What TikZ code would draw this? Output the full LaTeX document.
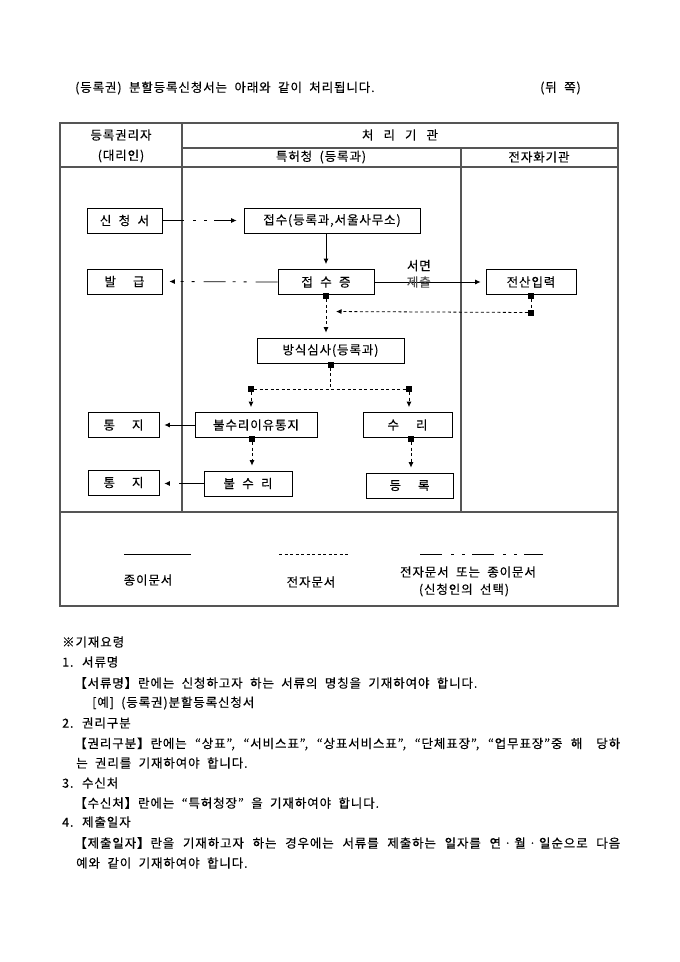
\documentclass[tikz,border=0pt]{standalone}
\usepackage{fontspec}
\setmainfont{Noto Sans CJK KR}[WordSpace=2.0, LetterSpace=7, FakeBold=0.2]
\usetikzlibrary{arrows.meta,positioning,calc}
\definecolor{rulegray}{RGB}{85,85,85}
\definecolor{faded}{RGB}{80,80,80}

\begin{document}
\begin{tikzpicture}[x=1pt, y=-1pt,
        box/.style={rectangle, draw=black, line width=0.8pt,
                    minimum height=25pt, inner sep=0pt,
                    font=\fontsize{12.5}{15}\selectfont},
        paper/.style={-{Latex[length=5.5pt,width=5pt]}, line width=0.8pt, shorten >=5pt},
        dots/.style={line width=0.8pt, dash pattern=on 3pt off 2.5pt},
        elec/.style={dots, -{Latex[length=5.5pt,width=5pt]}, shorten >=5pt},
        mixpat/.style={dash pattern=on 22pt off 9pt on 3pt off 8pt on 3pt off 7pt},
        mixed/.style={-{Latex[length=5.5pt,width=5pt]}, line width=0.8pt, shorten >=7pt, mixpat},
        sq/.style={rectangle, fill=black, minimum size=6pt, inner sep=0pt},
        grid/.style={draw=rulegray, line width=1.2pt},
        hd/.style={font=\fontsize{12.5}{15}\selectfont},
        txt/.style={anchor=west, inner sep=0pt, font=\fontsize{12.5}{15}\selectfont}]

        \useasboundingbox (0,0) rectangle (680,962);

        % heading line
        \node[txt] (title) at (75,88) {(등록권) 분할등록신청서는 아래와 같이 처리됩니다.};
        \node[txt] (side) at (540,88) {(뒤 쪽)};

        % table frame
        \draw[grid] (60,123) rectangle (618,606);
        \draw[grid] (182,148) -- (618,148);
        \draw[grid] (60,167) -- (618,167);
        \draw[grid] (60,512) -- (618,512);
        \draw[grid] (182,123) -- (182,512);
        \draw[grid] (461,148) -- (461,512);

        % column heads
        \node[hd] (owner) at (121,135) {등록권리자};
        \node[hd] (agent) at (121,156) {(대리인)};
        \node[hd] (org) at (400,135) {처\hspace{10pt}리\hspace{10pt}기\hspace{10pt}관};
        \node[hd] (kipo) at (321,157) {특허청 (등록과)};
        \node[hd] (scan) at (539,157) {전자화기관};

        % process boxes
        \node[box, minimum width=75pt] (apply) at (124.5,220.5) {신 청 서};
        \node[box, minimum width=176pt] (recv) at (332,220.5) {접수(등록과,서울사무소)};
        \node[box, minimum width=75pt] (issue) at (124.5,281.5) {발\hspace{17pt}급};
        \node[box, minimum width=96pt] (slip) at (326,282) {접 수 증};
        \node[box, minimum width=90pt] (input) at (531,282) {전산입력};
        \node[box, minimum width=147pt] (exam) at (330.5,350.5) {방식심사(등록과)};
        \node[box, minimum width=71pt] (notice) at (123.5,425) {통\hspace{17pt}지};
        \node[box, minimum width=122pt] (reason) at (256,425) {불수리이유통지};
        \node[box, minimum width=89pt] (accept) at (407.5,425) {수\hspace{17pt}리};
        \node[box, minimum width=71pt] (notice2) at (123.5,482.5) {통\hspace{17pt}지};
        \node[box, minimum width=88pt] (refuse) at (248,483.5) {불 수 리};
        \node[box, minimum width=87pt] (enrol) at (409.5,485.5) {등\hspace{17pt}록};

        % branch markers
        \node[sq, below=-2pt of slip] (slipsq) {};
        \node[sq, below=-2pt of input] (inputsq) {};
        \node[sq, below=10pt of inputsq] (turnsq) {};
        \coordinate (back) at (331,311.5);
        \node[sq, below=-2pt of exam] (examsq) {};
        \node[sq] (leftsq) at (251,389) {};
        \node[sq] (rightsq) at (409,389) {};
        \node[sq] (reasonsq) at (252,439) {};
        \node[sq] (acceptsq) at (411,439) {};

        % connectors
        \draw[mixed] (apply.east) -- (recv.west);
        \draw[paper] (slip.north |- recv.south) -- (slip.north);
        \draw[mixed] (slip.west) -- (issue.east);
        \draw[paper] (slip.east) --
            node[pos=0.4, above=7pt, hd] {서면}
            node[pos=0.4, hd, text=faded] {제출}
            (input.west);
        \draw[dots] (inputsq) -- (turnsq);
        \draw[elec] (turnsq) -- (back);
        \draw[elec] (slipsq) -- (slipsq |- exam.north);
        \draw[dots] (examsq) -- (examsq |- leftsq);
        \draw[dots] (leftsq) -- (rightsq);
        \draw[elec] (leftsq) -- (leftsq |- reason.north);
        \draw[elec] (rightsq) -- (rightsq |- accept.north);
        \draw[paper] (reason.west) -- (notice.east);
        \draw[elec] (reasonsq) -- (reasonsq |- refuse.north);
        \draw[paper, dash pattern=on 25pt off 10pt] (refuse.west) -- (refuse.west -| notice2.east);
        \draw[elec] (acceptsq) -- (acceptsq |- enrol.north);

        % legend
        \draw[line width=0.8pt] (124,554) -- (191,554);
        \draw[dots] (279,554) -- (348,554);
        \draw[line width=0.8pt, mixpat] (420,554) -- (543,554);
        \node[hd] (papertxt) at (148,580) {종이문서};
        \node[hd] (electxt) at (311,582) {전자문서};
        \node[hd] (eithertxt) at (468,572) {전자문서 또는 종이문서};
        \node[hd] (choicetxt) at (464,590) {(신청인의 선택)};

        % notes
        \node[txt] (memo) at (62,642) {※기재요령};
        \node[txt] (item1) at (62,662) {1. 서류명};
        \node[txt] (item1a) at (74,683) {【서류명】란에는 신청하고자 하는 서류의 명칭을 기재하여야 합니다.};
        \node[txt] (item1b) at (92,703) {[예] (등록권)분할등록신청서};
        \node[txt] (item2) at (62,723) {2. 권리구분};
        \node[txt] (item2a) at (74,744) {\makebox[546pt][s]{【권리구분】란에는 “상표”, “서비스표”, “상표서비스표”, “단체표장”, “업무표장”중 해\hspace{14pt}당하}};
        \node[txt] (item2b) at (76,763) {는 권리를 기재하여야 합니다.};
        \node[txt] (item3) at (62,783) {3. 수신처};
        \node[txt] (item3a) at (74,803) {【수신처】란에는 “특허청장” 을 기재하여야 합니다.};
        \node[txt] (item4) at (62,822) {4. 제출일자};
        \node[txt] (item4a) at (74,843) {\makebox[546pt][s]{【제출일자】란을 기재하고자 하는 경우에는 서류를 제출하는 일자를 연ㆍ월ㆍ일순으로 다음}};
        \node[txt] (item4b) at (76,863) {예와 같이 기재하여야 합니다.};

    \end{tikzpicture}
\end{document}
